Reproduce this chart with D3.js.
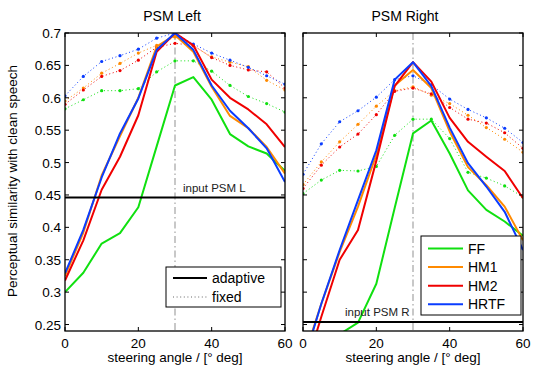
<!DOCTYPE html>
<html><head><meta charset="utf-8">
<script src="https://cdn.jsdelivr.net/npm/d3@7"></script>
<style>body{margin:0;background:#fff}svg{display:block;font-family:"Liberation Sans",Arial,sans-serif}</style>
</head><body><svg id="c" width="534" height="371"></svg>
<script>
const angles = [0,5,10,15,20,25,30,35,40,45,50,55,60];
const seriesNames = ["FF","HM1","HM2","HRTF"];
const xTicks = [0,20,40,60];
const yTicks = [0.25,0.3,0.35,0.4,0.45,0.5,0.55,0.6,0.65,0.7];
const yTickLabels = ["0.25","0.3","0.35","0.4","0.45","0.5","0.55","0.6","0.65","0.7"];

// PSM Left, adaptive (solid)
const FF_L_ad   = [0.300,0.330,0.375,0.391,0.431,0.525,0.619,0.632,0.597,0.544,0.525,0.514,0.487];
const HM1_L_ad  = [0.325,0.392,0.480,0.541,0.600,0.679,0.697,0.671,0.617,0.572,0.553,0.524,0.483];
const HM2_L_ad  = [0.318,0.380,0.458,0.509,0.573,0.671,0.700,0.681,0.628,0.600,0.582,0.559,0.524];
const HRTF_L_ad = [0.329,0.396,0.477,0.545,0.599,0.674,0.700,0.674,0.619,0.580,0.553,0.522,0.470];
// PSM Left, fixed (dotted)
const FF_L_fx   = [0.583,0.597,0.611,0.611,0.614,0.640,0.657,0.657,0.641,0.619,0.602,0.591,0.578];
const HM1_L_fx  = [0.595,0.615,0.638,0.653,0.669,0.681,0.694,0.680,0.663,0.655,0.648,0.627,0.612];
const HM2_L_fx  = [0.590,0.612,0.633,0.642,0.658,0.678,0.684,0.681,0.662,0.650,0.643,0.640,0.615];
const HRTF_L_fx = [0.603,0.633,0.656,0.665,0.675,0.692,0.700,0.683,0.669,0.658,0.647,0.634,0.621];
// PSM Right, adaptive (solid)
const FF_R_ad   = [0.170,0.205,0.235,0.253,0.313,0.430,0.545,0.565,0.514,0.457,0.427,0.409,0.387];
const HM1_R_ad  = [0.195,0.282,0.362,0.432,0.512,0.619,0.643,0.615,0.548,0.493,0.465,0.432,0.380];
const HM2_R_ad  = [0.170,0.262,0.350,0.396,0.503,0.618,0.655,0.625,0.569,0.532,0.509,0.487,0.445];
const HRTF_R_ad = [0.190,0.282,0.365,0.442,0.519,0.628,0.655,0.618,0.554,0.499,0.463,0.424,0.365];
// PSM Right, fixed (dotted)
const FF_R_fx   = [0.452,0.473,0.488,0.487,0.494,0.542,0.567,0.567,0.537,0.485,0.476,0.464,0.447];
const HM1_R_fx  = [0.466,0.501,0.532,0.559,0.587,0.611,0.617,0.604,0.591,0.573,0.554,0.536,0.516];
const HM2_R_fx  = [0.460,0.496,0.524,0.544,0.574,0.610,0.615,0.606,0.585,0.567,0.561,0.546,0.522];
const HRTF_R_fx = [0.482,0.529,0.563,0.580,0.601,0.628,0.634,0.620,0.598,0.582,0.569,0.553,0.531];

const inputPSM = [0.446, 0.254];
const steerRef = 30;
const colors = {FF:"#10e010", HM1:"#ff8a00", HM2:"#f00000", HRTF:"#0a3cff"};

const svg = d3.select("#c");
const yTop = 33, yBot = 331;
const y = d3.scaleLinear().domain([0.24,0.7]).range([yBot,yTop]);

const panels = [
  {title:"PSM Left", tx:172, x0:65, x1:285, ad:[FF_L_ad,HM1_L_ad,HM2_L_ad,HRTF_L_ad], fx:[FF_L_fx,HM1_L_fx,HM2_L_fx,HRTF_L_fx], input:inputPSM[0], inLabel:"input PSM L", labels:true},
  {title:"PSM Right", tx:405, x0:303, x1:523, ad:[FF_R_ad,HM1_R_ad,HM2_R_ad,HRTF_R_ad], fx:[FF_R_fx,HM1_R_fx,HM2_R_fx,HRTF_R_fx], input:inputPSM[1], inLabel:"input PSM R", labels:false}
];

panels.forEach((p,pi)=>{
  const x = d3.scaleLinear().domain([0,60]).range([p.x0,p.x1]);
  const clipId = "clip"+pi;
  svg.append("clipPath").attr("id",clipId).append("rect")
    .attr("x",p.x0).attr("y",yTop).attr("width",p.x1-p.x0).attr("height",yBot-yTop);
  const g = svg.append("g").attr("clip-path",`url(#${clipId})`);
  // reference line
  g.append("line").attr("x1",x(steerRef)).attr("x2",x(steerRef)).attr("y1",yTop).attr("y2",yBot)
    .attr("stroke","#c8c8c8").attr("stroke-width",2).attr("stroke-dasharray","7,3,1.5,3");
  const line = d3.line().x((d,i)=>x(angles[i])).y(d=>y(d));
  // fixed dotted
  p.fx.forEach((s,k)=>{
    const c = colors[seriesNames[k]];
    g.append("path").attr("d",line(s)).attr("fill","none").attr("stroke",c)
      .attr("stroke-width",1).attr("stroke-dasharray","1,2.6");
    g.selectAll(null).data(s).enter().append("circle")
      .attr("cx",(d,i)=>x(angles[i])).attr("cy",d=>y(d)).attr("r",1.6).attr("fill",c);
  });
  // adaptive solid
  p.ad.forEach((s,k)=>{
    g.append("path").attr("d",line(s)).attr("fill","none").attr("stroke",colors[seriesNames[k]])
      .attr("stroke-width",2).attr("stroke-linejoin","round");
  });
  // input PSM line
  g.append("line").attr("x1",p.x0).attr("x2",p.x1).attr("y1",y(p.input)).attr("y2",y(p.input))
    .attr("stroke","#000").attr("stroke-width",2);
  svg.append("text").attr("x", pi===0 ? 183 : 345).attr("y", y(p.input)-6)
    .attr("font-size",11.5).attr("fill","#222").text(p.inLabel);

  // axes box + ticks
  const ag = svg.append("g");
  ag.append("rect").attr("x",p.x0).attr("y",yTop).attr("width",p.x1-p.x0).attr("height",yBot-yTop)
    .attr("fill","none").attr("stroke","#000").attr("stroke-width",1.3);
  const tl = 4;
  yTicks.forEach(t=>{
    ag.append("line").attr("x1",p.x0).attr("x2",p.x0+tl).attr("y1",y(t)).attr("y2",y(t)).attr("stroke","#000");
    ag.append("line").attr("x1",p.x1).attr("x2",p.x1-tl).attr("y1",y(t)).attr("y2",y(t)).attr("stroke","#000");
  });
  xTicks.forEach(t=>{
    ag.append("line").attr("x1",x(t)).attr("x2",x(t)).attr("y1",yBot).attr("y2",yBot-tl).attr("stroke","#000");
    ag.append("line").attr("x1",x(t)).attr("x2",x(t)).attr("y1",yTop).attr("y2",yTop+tl).attr("stroke","#000");
    ag.append("text").attr("x",x(t)).attr("y",yBot+17).attr("text-anchor","middle")
      .attr("font-size",13.5).text(t);
  });
  if (p.labels) {
    yTicks.forEach((t,i)=>{
      ag.append("text").attr("x",p.x0-4).attr("y",y(t)+5).attr("text-anchor","end")
        .attr("font-size",13.5).text(yTickLabels[i]);
    });
  }
  svg.append("text").attr("x",p.tx).attr("y",21).attr("text-anchor","middle")
    .attr("font-size",14).text(p.title);
  svg.append("text").attr("x",(p.x0+p.x1)/2).attr("y",362).attr("text-anchor","middle")
    .attr("font-size",13.5).text("steering angle / [° deg]");
});

svg.append("text").attr("transform","translate(17,181) rotate(-90)").attr("text-anchor","middle")
  .attr("font-size",13.5).text("Perceptual similarity with clean speech");

// Legend left (adaptive/fixed)
const lg1 = svg.append("g");
lg1.append("rect").attr("x",166).attr("y",267).attr("width",115).attr("height",40)
  .attr("fill","#fff").attr("stroke","#000").attr("stroke-width",1);
lg1.append("line").attr("x1",173).attr("x2",207).attr("y1",278).attr("y2",278).attr("stroke","#000").attr("stroke-width",2);
lg1.append("line").attr("x1",173).attr("x2",207).attr("y1",297).attr("y2",297).attr("stroke","#666").attr("stroke-width",1).attr("stroke-dasharray","1,2.6");
lg1.append("text").attr("x",212).attr("y",282.5).attr("font-size",14).text("adaptive");
lg1.append("text").attr("x",212).attr("y",301.5).attr("font-size",14).text("fixed");

// Legend right (series)
const lg2 = svg.append("g");
lg2.append("rect").attr("x",421).attr("y",236).attr("width",100).attr("height",79)
  .attr("fill","#fff").attr("stroke","#000").attr("stroke-width",1);
seriesNames.forEach((n,i)=>{
  const yy = 248.5 + i*18.6;
  lg2.append("line").attr("x1",428).attr("x2",463).attr("y1",yy).attr("y2",yy).attr("stroke",colors[n]).attr("stroke-width",2);
  lg2.append("text").attr("x",468).attr("y",yy+5).attr("font-size",14).text(n);
});
</script></body></html>
